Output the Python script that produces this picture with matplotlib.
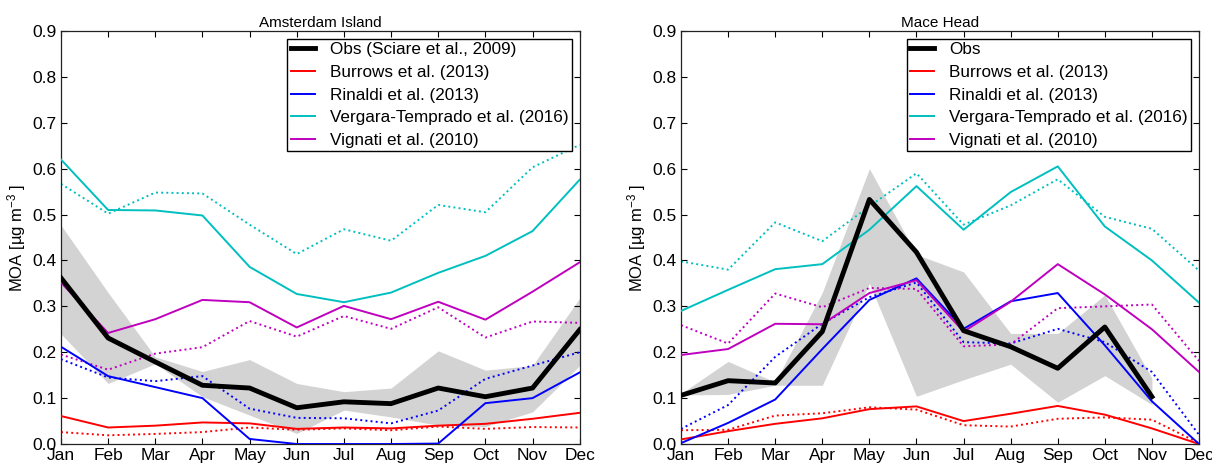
import numpy as np
import matplotlib
matplotlib.use('Agg')
import matplotlib.pyplot as plt

plt.rcParams['font.family'] = ['Liberation Sans', 'DejaVu Sans']
plt.rcParams['mathtext.fontset'] = 'custom'
plt.rcParams['mathtext.rm'] = 'Liberation Sans'
plt.rcParams['mathtext.it'] = 'Liberation Sans:italic'

months = ['Jan', 'Feb', 'Mar', 'Apr', 'May', 'Jun', 'Jul', 'Aug', 'Sep', 'Oct', 'Nov', 'Dec']
model_names = ['Burrows et al. (2013)', 'Rinaldi et al. (2013)',
               'Vergara-Temprado et al. (2016)', 'Vignati et al. (2010)']

# Amsterdam Island
ams_obs = [0.362, 0.231, 0.179, 0.128, 0.122, 0.079, 0.092, 0.088, 0.122, 0.103, 0.122, 0.249]
ams_obs_hi = [0.477, 0.330, 0.190, 0.158, 0.184, 0.132, 0.114, 0.122, 0.203, 0.161, 0.171, 0.318]
ams_obs_lo = [0.240, 0.132, 0.175, 0.103, 0.063, 0.023, 0.074, 0.059, 0.041, 0.038, 0.070, 0.171]
ams_burrows = [0.061, 0.036, 0.040, 0.047, 0.045, 0.033, 0.036, 0.034, 0.040, 0.044, 0.055, 0.068]
ams_burrows_dot = [0.026, 0.019, 0.022, 0.026, 0.036, 0.031, 0.034, 0.030, 0.038, 0.033, 0.037, 0.036]
ams_rinaldi = [0.212, 0.148, 0.124, 0.100, 0.011, 0.000, 0.000, 0.000, 0.001, 0.089, 0.100, 0.156]
ams_rinaldi_dot = [0.185, 0.145, 0.137, 0.148, 0.077, 0.057, 0.056, 0.045, 0.073, 0.142, 0.171, 0.200]
ams_vergara = [0.620, 0.510, 0.509, 0.498, 0.386, 0.327, 0.309, 0.330, 0.373, 0.410, 0.464, 0.576]
ams_vergara_dot = [0.567, 0.502, 0.548, 0.546, 0.478, 0.414, 0.468, 0.443, 0.521, 0.505, 0.603, 0.652]
ams_vignati = [0.352, 0.242, 0.272, 0.314, 0.309, 0.254, 0.301, 0.272, 0.310, 0.271, 0.332, 0.396]
ams_vignati_dot = [0.195, 0.162, 0.197, 0.211, 0.268, 0.234, 0.279, 0.251, 0.298, 0.232, 0.267, 0.264]

# Mace Head (obs only Jan-Nov)
mh_obs = [0.106, 0.138, 0.133, 0.245, 0.533, 0.418, 0.247, 0.212, 0.165, 0.255, 0.103]
mh_obs_hi = [0.110, 0.180, 0.135, 0.330, 0.600, 0.413, 0.375, 0.241, 0.241, 0.325, 0.143]
mh_obs_lo = [0.107, 0.108, 0.128, 0.128, 0.350, 0.104, 0.140, 0.174, 0.091, 0.149, 0.086]
mh_burrows = [0.010, 0.028, 0.044, 0.056, 0.076, 0.082, 0.050, 0.066, 0.083, 0.064, 0.034, 0.000]
mh_burrows_dot = [0.030, 0.031, 0.062, 0.067, 0.080, 0.075, 0.041, 0.038, 0.055, 0.058, 0.053, 0.002]
mh_rinaldi = [0.002, 0.046, 0.097, 0.207, 0.314, 0.361, 0.251, 0.311, 0.329, 0.215, 0.093, 0.000]
mh_rinaldi_dot = [0.033, 0.085, 0.190, 0.262, 0.320, 0.352, 0.222, 0.219, 0.251, 0.222, 0.157, 0.020]
mh_vergara = [0.290, 0.336, 0.381, 0.392, 0.467, 0.562, 0.467, 0.549, 0.605, 0.474, 0.400, 0.308]
mh_vergara_dot = [0.398, 0.380, 0.483, 0.442, 0.518, 0.590, 0.478, 0.520, 0.577, 0.495, 0.469, 0.378]
mh_vignati = [0.194, 0.207, 0.262, 0.261, 0.329, 0.357, 0.245, 0.310, 0.392, 0.326, 0.250, 0.157]
mh_vignati_dot = [0.259, 0.219, 0.328, 0.298, 0.340, 0.338, 0.213, 0.217, 0.296, 0.300, 0.304, 0.181]

model_colors = ['r', 'b', 'c', 'm']

sites = [
    ('Amsterdam Island', 'Obs (Sciare et al., 2009)', ams_obs, ams_obs_lo, ams_obs_hi,
     [ams_burrows, ams_rinaldi, ams_vergara, ams_vignati],
     [ams_burrows_dot, ams_rinaldi_dot, ams_vergara_dot, ams_vignati_dot]),
    ('Mace Head', 'Obs', mh_obs, mh_obs_lo, mh_obs_hi,
     [mh_burrows, mh_rinaldi, mh_vergara, mh_vignati],
     [mh_burrows_dot, mh_rinaldi_dot, mh_vergara_dot, mh_vignati_dot]),
]

fig = plt.figure(figsize=(12.12, 4.63), dpi=100)
axes = [fig.add_axes([0.0503, 0.041, 0.428, 0.892]),
        fig.add_axes([0.5619, 0.041, 0.4274, 0.892])]

for ax, (title, obs_label, obs, lo, hi, solids, dots) in zip(axes, sites):
    x = np.arange(len(months))
    xo = np.arange(len(obs))
    ax.fill_between(xo, lo, hi, color='lightgray', lw=0, zorder=1)
    handles = []
    for c, name, s, d in zip(model_colors, model_names, solids, dots):
        ax.plot(x, d, ':', color=c, lw=1.4, zorder=2)
        h, = ax.plot(x, s, '-', color=c, lw=1.4, label=name, zorder=3)
        handles.append(h)
    ho, = ax.plot(xo, obs, '-', color='k', lw=3.5, label=obs_label, zorder=4)
    handles.insert(0, ho)

    ax.set_xlim(0, 11)
    ax.set_ylim(0, 0.9)
    ax.set_xticks(x)
    ax.set_xticklabels(months)
    ax.set_yticks(np.arange(0, 0.91, 0.1))
    ax.set_yticklabels(['%.1f' % v for v in np.arange(0, 0.91, 0.1)])
    ax.tick_params(direction='in', top=True, right=True, length=4, width=0.8,
                   labelsize=12.5, pad=3)
    for sp in ax.spines.values():
        sp.set_linewidth(0.9)
        sp.set_color('#222222')
    ax.set_title(title, fontsize=11, pad=3)
    ax.set_ylabel('MOA [µg m$^{-3}$ ]', fontsize=12, labelpad=3)
    leg = ax.legend(handles=handles, loc='upper right', fontsize=12.3,
                    fancybox=False, framealpha=1, edgecolor='k',
                    handlelength=1.4, handletextpad=0.9, labelspacing=0.45,
                    borderpad=0.2, borderaxespad=0.45)
    leg.get_frame().set_linewidth(1.0)

fig.savefig('out.png', dpi=100)
